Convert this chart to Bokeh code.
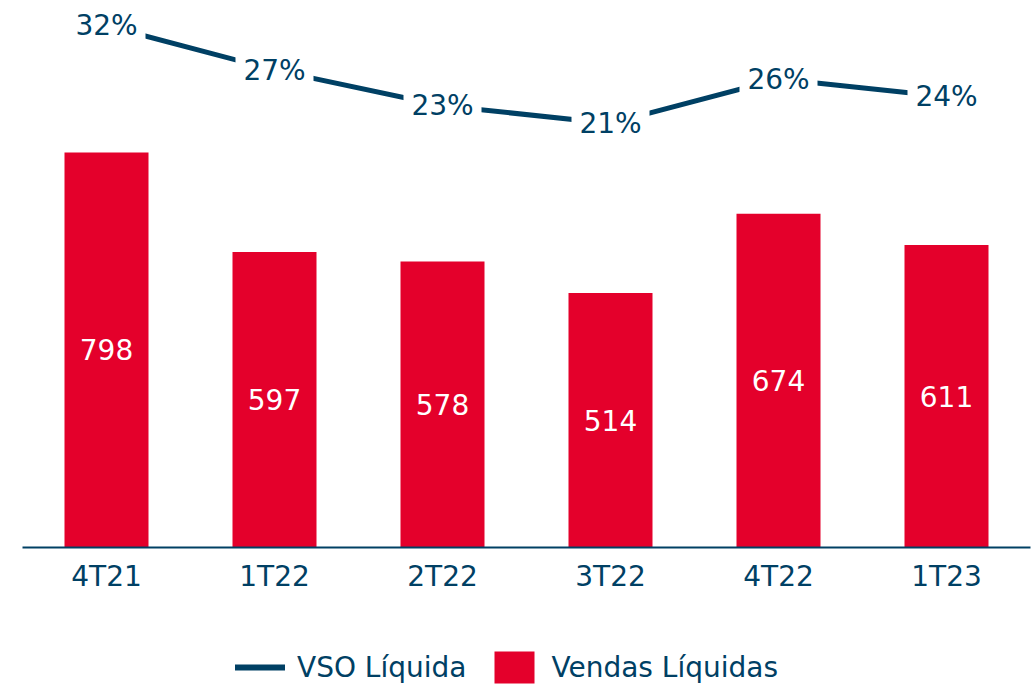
from bokeh.plotting import figure
from bokeh.layouts import column
from bokeh.models import Range1d, FixedTicker, Legend, LegendItem, ColumnDataSource
from bokeh.core.properties import value
from bokeh.embed import file_html
from bokeh.resources import INLINE

categories = ["4T21", "1T22", "2T22", "3T22", "4T22", "1T23"]
vendas = [798, 597, 578, 514, 674, 611]
vso = [32, 27, 23, 21, 26, 24]
legend_labels = ["VSO Líquida", "Vendas Líquidas"]

NAVY = "#004064"
RED = "#E4002B"
FONT = "DejaVu Sans"

xs = list(range(len(categories)))
src = ColumnDataSource(dict(
    x=xs, cat=categories, vendas=vendas, half=[v / 2 for v in vendas],
    vlab=[str(v) for v in vendas], vso=vso, plab=[f"{v}%" for v in vso],
))

p = figure(width=1032, height=595, output_backend="svg", toolbar_location=None,
           x_range=Range1d(-0.5, 5.5), y_range=Range1d(0, 1105),
           y_axis_location=None, min_border_left=22, min_border_right=2,
           min_border_top=0, min_border_bottom=0)
p.outline_line_color = None
p.grid.grid_line_color = None
p.background_fill_color = "white"
p.border_fill_color = "white"
p.extra_y_ranges = {"pct": Range1d(-26.73, 34.84)}

p.vbar(x="x", top="vendas", width=0.5, source=src, fill_color=RED, line_color=None)
p.text(x="x", y="half", text="vlab", source=src, text_color="white",
       text_font=value(FONT), text_font_size="28px", text_align="center", text_baseline="middle")

p.line(x="x", y="vso", source=src, y_range_name="pct", line_color=NAVY, line_width=5)
p.rect(x="x", y="vso", width=78, height=36, width_units="screen", height_units="screen",
       source=src, y_range_name="pct", fill_color="white", line_color=None)
p.text(x="x", y="vso", text="plab", source=src, y_range_name="pct", text_color=NAVY,
       text_font=value(FONT), text_font_size="28px", text_align="center", text_baseline="middle")

ax = p.xaxis[0]
ax.ticker = FixedTicker(ticks=xs)
ax.major_label_overrides = {i: c for i, c in zip(xs, categories)}
ax.major_tick_line_color = None
ax.minor_tick_line_color = None
ax.axis_line_color = NAVY
ax.axis_line_width = 2
ax.major_label_text_font = FONT
ax.major_label_text_font_size = "28px"
ax.major_label_text_color = NAVY
ax.major_label_standoff = 6

# legend strip below the chart (its renderers lie far outside the strip's ranges,
# so only their legend swatches are visible)
q = figure(width=1032, height=92, output_backend="svg", toolbar_location=None,
           x_range=Range1d(100, 101), y_range=Range1d(5000, 5001),
           x_axis_location=None, y_axis_location=None,
           min_border_left=0, min_border_right=0, min_border_top=0, min_border_bottom=0)
q.outline_line_color = None
q.grid.grid_line_color = None
q.background_fill_color = "white"
q.border_fill_color = "white"
lg_line = q.line(x="x", y="vso", source=src, line_color=NAVY, line_width=6, line_cap="round")
lg_bar = q.vbar(x="x", top="vendas", bottom="half", width=0.5, source=src,
                fill_color=RED, line_color=None)

legend = Legend(items=[LegendItem(label=legend_labels[0], renderers=[lg_line]),
                       LegendItem(label=legend_labels[1], renderers=[lg_bar])],
                orientation="horizontal", location=(213, 0),
                glyph_width=50, glyph_height=40, label_standoff=12, spacing=23,
                label_text_font=FONT, label_text_font_size="28px", label_text_color=NAVY,
                border_line_color=None, background_fill_alpha=0, padding=0, margin=0)
q.add_layout(legend, "center")

layout = column(p, q, spacing=0)
open("out.html", "w").write(file_html(layout, INLINE))
